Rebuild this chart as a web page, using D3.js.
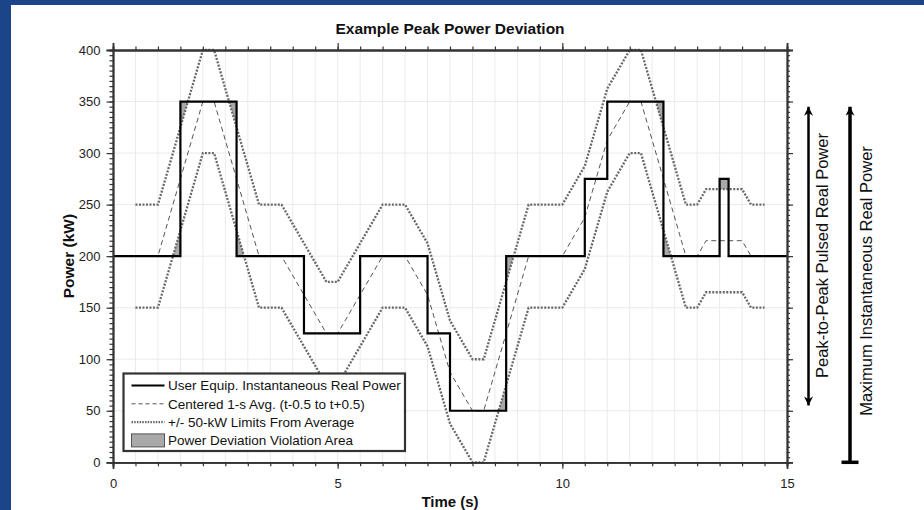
<!DOCTYPE html>
<html>
<head>
<meta charset="utf-8">
<script src="https://cdn.jsdelivr.net/npm/d3@7"></script>
<style>
  body { margin: 0; background: #1b4588; }
  svg { display: block; font-family: 'Liberation Sans', Arial, sans-serif; }
</style>
</head>
<body>
<script>
// instantaneous real power, step after each point (time s, kW)
let powerSteps = [[0,200],[1.5,350],[2.75,200],[4.25,125],[5.5,200],[7,125],[7.5,50],[8.75,200],[10.5,275],[11,350],[12.25,200],[13.5,275],[13.7,200],[15,200]];

// centered 1-s average, vertices
let avgPoints = [[0.5,200],[1,200],[2,350],[2.25,350],[3.25,200],[3.75,200],[4.75,125],[5,125],[6,200],[6.5,200],[7,162.5],[7.5,87.5],[8,50],[8.25,50],[9.25,200],[10,200],[10.5,237.5],[11,312.5],[11.5,350],[11.75,350],[12.75,200],[13,200],[13.2,215],[14,215],[14.2,200],[14.5,200]];

// +/- 50 kW limits (dotted)
let upperPoints = [[0.5,250],[1,250],[2,400],[2.25,400],[3.25,250],[3.75,250],[4.75,175],[5,175],[6,250],[6.5,250],[7,212.5],[7.5,137.5],[8,100],[8.25,100],[9.25,250],[10,250],[10.5,287.5],[11,362.5],[11.5,400],[11.75,400],[12.75,250],[13,250],[13.2,265],[14,265],[14.2,250],[14.5,250]];
let lowerPoints = [[0.5,150],[1,150],[2,300],[2.25,300],[3.25,150],[3.75,150],[4.75,75],[5,75],[6,150],[6.5,150],[7,112.5],[7.5,37.5],[8,0],[8.25,0],[9.25,150],[10,150],[10.5,187.5],[11,262.5],[11.5,300],[11.75,300],[12.75,150],[13,150],[13.2,165],[14,165],[14.2,150],[14.5,150]];

// violation areas (gray patches)
let violationAreas = [
  [[1.333,200],[1.5,225],[1.5,200]],
  [[1.5,325],[1.5,350],[1.667,350]],
  [[2.583,350],[2.75,350],[2.75,325]],
  [[2.75,225],[2.75,200],[2.917,200]],
  [[8.583,50],[8.75,50],[8.75,75]],
  [[8.75,175],[8.75,200],[8.917,200]],
  [[12.083,350],[12.25,350],[12.25,325]],
  [[12.25,225],[12.25,200],[12.417,200]],
  [[13.5,265],[13.7,265],[13.7,275],[13.5,275]]
];

let xTicks = [0, 5, 10, 15];
let yTicks = [0, 50, 100, 150, 200, 250, 300, 350, 400];
let legendLabels = ['User Equip. Instantaneous Real Power', 'Centered 1-s Avg. (t-0.5 to t+0.5)', '+/- 50-kW Limits From Average', 'Power Deviation Violation Area'];

// annotation ranges (kW)
let pulsedRange = [55, 345];
let maxRange = [0, 345];

let width = 924, height = 510;
let margin = { top: 50, right: 137, bottom: 47.7, left: 113 };

let x = d3.scaleLinear().domain([0, 15]).range([margin.left, width - margin.right]);
let y = d3.scaleLinear().domain([0, 400]).range([height - margin.bottom, margin.top]);

const svg = d3.select('body').append('svg')
  .attr('width', width)
  .attr('height', height);

// white page inside the blue frame
svg.append('rect').attr('x', 11).attr('y', 5).attr('width', width - 11).attr('height', height - 5).attr('fill', '#fff');

let defs = svg.append('defs');
defs.append('marker')
  .attr('id', 'head')
  .attr('viewBox', '0 0 10 10')
  .attr('refX', 10).attr('refY', 5)
  .attr('markerUnits', 'userSpaceOnUse')
  .attr('markerWidth', 12).attr('markerHeight', 9)
  .attr('orient', 'auto-start-reverse')
  .append('path')
  .attr('d', 'M0,0 L10,5 L0,10 L3,5 Z')
  .attr('fill', '#000');

// grid
let minorX = d3.range(0.5, 15, 0.5);
svg.append('g').selectAll('line').data(minorX).enter().append('line')
  .attr('x1', d => x(d)).attr('x2', d => x(d))
  .attr('y1', y(400)).attr('y2', y(0))
  .attr('stroke', '#ebebeb').attr('stroke-width', 1);
svg.append('g').selectAll('line').data(yTicks.slice(1, -1)).enter().append('line')
  .attr('x1', x(0)).attr('x2', x(15))
  .attr('y1', d => y(d)).attr('y2', d => y(d))
  .attr('stroke', '#ebebeb').attr('stroke-width', 1);

let line = d3.line().x(d => x(d[0])).y(d => y(d[1]));

// violation patches
svg.append('g').selectAll('path').data(violationAreas).enter().append('path')
  .attr('d', d => line(d) + 'Z')
  .attr('fill', '#a9a9a9');

// limits
svg.append('g').selectAll('path').data([upperPoints, lowerPoints]).enter().append('path')
  .attr('d', line)
  .attr('fill', 'none')
  .attr('stroke', '#686868')
  .attr('stroke-width', 2.3)
  .attr('stroke-dasharray', '2,1.5');

// average
svg.append('path')
  .attr('d', line(avgPoints))
  .attr('fill', 'none')
  .attr('stroke', '#555')
  .attr('stroke-width', 1)
  .attr('stroke-dasharray', '5,3.5');

// instantaneous power
svg.append('path')
  .attr('d', line.curve(d3.curveStepAfter)(powerSteps))
  .attr('fill', 'none')
  .attr('stroke', '#000')
  .attr('stroke-width', 2.2);
line.curve(d3.curveLinear);

// axes
let axisColor = '#333';
function styleAxis(g) {
  g.select('.domain').attr('stroke', axisColor).attr('stroke-width', 1.8);
  g.selectAll('.tick line').attr('stroke', axisColor).attr('stroke-width', 1.2);
  g.selectAll('.tick text').attr('fill', '#222').attr('font-size', 13);
}

let minorXticks = d3.range(0, 15.01, 0.5);
let minorYticks = d3.range(0, 400.01, 5);

svg.append('g').attr('transform', `translate(0,${y(0)})`)
  .call(d3.axisBottom(x).tickValues(minorXticks).tickSize(4).tickFormat(''))
  .call(styleAxis);
svg.append('g').attr('transform', `translate(0,${y(0)})`)
  .call(d3.axisBottom(x).tickValues(xTicks).tickSize(6.5).tickPadding(10).tickFormat(d3.format('d')))
  .call(styleAxis);

svg.append('g').attr('transform', `translate(0,${y(400)})`)
  .call(d3.axisTop(x).tickValues(minorXticks).tickSize(3.5).tickFormat(''))
  .call(styleAxis);
svg.append('g').attr('transform', `translate(0,${y(400)})`)
  .call(d3.axisTop(x).tickValues(xTicks).tickSize(7).tickFormat(''))
  .call(styleAxis);

svg.append('g').attr('transform', `translate(${x(0)},0)`)
  .call(d3.axisLeft(y).tickValues(minorYticks).tickSize(3.5).tickFormat(''))
  .call(styleAxis);
svg.append('g').attr('transform', `translate(${x(0)},0)`)
  .call(d3.axisLeft(y).tickValues(yTicks).tickSize(6.5).tickPadding(6).tickFormat(d3.format('d')))
  .call(styleAxis);

svg.append('g').attr('transform', `translate(${x(15)},0)`)
  .call(d3.axisRight(y).tickValues(minorYticks).tickSize(3).tickFormat(''))
  .call(styleAxis);
svg.append('g').attr('transform', `translate(${x(15)},0)`)
  .call(d3.axisRight(y).tickValues(yTicks).tickSize(6).tickFormat(''))
  .call(styleAxis);

// titles
svg.append('text')
  .attr('x', (x(0) + x(15)) / 2).attr('y', 34)
  .attr('text-anchor', 'middle')
  .attr('font-size', 15.5).attr('font-weight', 'bold').attr('fill', '#111')
  .text('Example Peak Power Deviation');

svg.append('text')
  .attr('x', (x(0) + x(15)) / 2).attr('y', 507)
  .attr('text-anchor', 'middle')
  .attr('font-size', 15).attr('font-weight', 'bold').attr('fill', '#111')
  .text('Time (s)');

svg.append('text')
  .attr('transform', `translate(73.5,${(y(0) + y(400)) / 2}) rotate(-90)`)
  .attr('text-anchor', 'middle')
  .attr('font-size', 15.5).attr('font-weight', 'bold').attr('fill', '#111')
  .text('Power (kW)');

// legend
let legend = svg.append('g').attr('transform', 'translate(123.5,373.5)');
legend.append('rect')
  .attr('width', 281.5).attr('height', 77.5)
  .attr('fill', '#fff')
  .attr('stroke', '#333').attr('stroke-width', 2.2);

let rowY = i => 12 + i * 18.3;
let legendStyles = [
  { stroke: '#000', width: 2.2, dash: null },
  { stroke: '#555', width: 1, dash: '4,3' },
  { stroke: '#686868', width: 2.3, dash: '1.5,1.2' }
];
legendStyles.forEach((s, i) => {
  legend.append('line')
    .attr('x1', 8).attr('x2', 41)
    .attr('y1', rowY(i)).attr('y2', rowY(i))
    .attr('stroke', s.stroke).attr('stroke-width', s.width)
    .attr('stroke-dasharray', s.dash);
});
legend.append('rect')
  .attr('x', 8).attr('y', rowY(3) - 6.5)
  .attr('width', 33).attr('height', 13)
  .attr('fill', '#a9a9a9').attr('stroke', '#555').attr('stroke-width', 1);

legend.selectAll('text.lab').data(legendLabels).enter().append('text')
  .attr('class', 'lab')
  .attr('x', 44.5).attr('y', (d, i) => rowY(i))
  .attr('dy', '0.36em')
  .attr('font-size', 13.5).attr('fill', '#111')
  .text(d => d);

// range annotations on the right
let arrow1X = 808.5, arrow2X = 850;
svg.append('line')
  .attr('x1', arrow1X).attr('x2', arrow1X)
  .attr('y1', y(pulsedRange[0])).attr('y2', y(pulsedRange[1]))
  .attr('stroke', '#000').attr('stroke-width', 2.5)
  .attr('marker-start', 'url(#head)').attr('marker-end', 'url(#head)');

svg.append('line')
  .attr('x1', arrow2X).attr('x2', arrow2X)
  .attr('y1', y(maxRange[0])).attr('y2', y(maxRange[1]))
  .attr('stroke', '#000').attr('stroke-width', 3.5)
  .attr('marker-end', 'url(#head)');
svg.append('line')
  .attr('x1', arrow2X - 8.5).attr('x2', arrow2X + 8.5)
  .attr('y1', y(maxRange[0])).attr('y2', y(maxRange[0]))
  .attr('stroke', '#000').attr('stroke-width', 3.5);

svg.append('text')
  .attr('transform', `translate(828,255.5) rotate(-90)`)
  .attr('text-anchor', 'middle')
  .attr('font-size', 16.5).attr('fill', '#111')
  .text('Peak-to-Peak Pulsed Real Power');

svg.append('text')
  .attr('transform', `translate(872,281) rotate(-90)`)
  .attr('text-anchor', 'middle')
  .attr('font-size', 16.5).attr('fill', '#111')
  .text('Maximum Instantaneous Real Power');
</script>
</body>
</html>
